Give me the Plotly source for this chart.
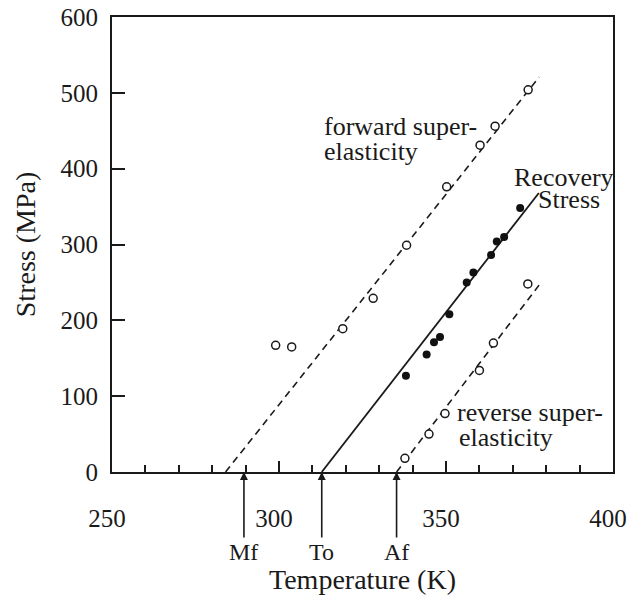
import plotly.graph_objects as go

# ---- data ----
forward_T = [299.0, 303.8, 319.1, 328.2, 338.2, 350.2, 360.2, 364.7, 374.6]
forward_S = [167, 165, 189, 229, 299, 376, 431, 456, 504]

recovery_T = [338.0, 344.2, 346.4, 348.2, 351.0, 356.2, 358.2, 363.5, 365.2, 367.4, 372.2]
recovery_S = [127, 155, 171, 178, 208, 250, 263, 286, 304, 310, 348]

reverse_T = [337.7, 344.9, 349.7, 360.0, 364.2, 374.5]
reverse_S = [18, 50, 77, 134, 170, 248]

forward_fit_T = [284.0, 377.9]
forward_fit_S = [0, 521]
recovery_fit_T = [312.8, 377.8]
recovery_fit_S = [0, 368]
reverse_fit_T = [335.2, 378.3]
reverse_fit_S = [0, 249]

marker_labels = ["Mf", "To", "Af"]
marker_T = [289.5, 312.8, 335.2]

x_ticks = [250, 300, 350, 400]
y_ticks = [0, 100, 200, 300, 400, 500, 600]

FONT = "Liberation Serif, Times New Roman, serif"
INK = "#1a1a1a"

fig = go.Figure()

# fitted lines
fig.add_trace(go.Scatter(x=forward_fit_T, y=forward_fit_S, mode="lines",
                         line=dict(color=INK, width=1.6, dash="7px,5px"),
                         showlegend=False, hoverinfo="skip"))
fig.add_trace(go.Scatter(x=recovery_fit_T, y=recovery_fit_S, mode="lines",
                         line=dict(color=INK, width=1.8),
                         showlegend=False, hoverinfo="skip"))
fig.add_trace(go.Scatter(x=reverse_fit_T, y=reverse_fit_S, mode="lines",
                         line=dict(color=INK, width=1.6, dash="7px,5px"),
                         showlegend=False, hoverinfo="skip"))

# data points
fig.add_trace(go.Scatter(x=forward_T, y=forward_S, mode="markers", name="forward",
                         marker=dict(symbol="circle", size=8, color="white",
                                     line=dict(color=INK, width=1.5)),
                         showlegend=False))
fig.add_trace(go.Scatter(x=recovery_T, y=recovery_S, mode="markers", name="recovery",
                         marker=dict(symbol="circle", size=8, color="#111111",
                                     line=dict(color="#111111", width=0)),
                         showlegend=False))
fig.add_trace(go.Scatter(x=reverse_T, y=reverse_S, mode="markers", name="reverse",
                         marker=dict(symbol="circle", size=8, color="white",
                                     line=dict(color=INK, width=1.5)),
                         showlegend=False))

annotations = []
# text labels
text_font = dict(family=FONT, size=26, color=INK)
annotations += [
    dict(x=312.9, y=455, text="forward super-", xanchor="left", yanchor="middle",
         showarrow=False, font=text_font),
    dict(x=312.9, y=422, text="elasticity", xanchor="left", yanchor="middle",
         showarrow=False, font=text_font),
    dict(x=385.3, y=388, text="Recovery", xanchor="center", yanchor="middle",
         showarrow=False, font=text_font),
    dict(x=386.8, y=359, text="Stress", xanchor="center", yanchor="middle",
         showarrow=False, font=text_font),
    dict(x=352.7, y=78, text="reverse super-", xanchor="left", yanchor="middle",
         showarrow=False, font=text_font),
    dict(x=353.2, y=45, text="elasticity", xanchor="left", yanchor="middle",
         showarrow=False, font=text_font),
]
# Mf / To / Af arrows
for lab, t in zip(marker_labels, marker_T):
    annotations.append(dict(x=t, y=0, xref="x", yref="y", text=lab,
                            showarrow=True, ax=0, ay=80, arrowhead=2, arrowsize=1,
                            arrowwidth=1.6, arrowcolor=INK, standoff=0,
                            font=dict(family=FONT, size=24, color=INK)))

fig.update_layout(
    width=630, height=601,
    margin=dict(l=112, r=17, t=17, b=129),
    paper_bgcolor="white", plot_bgcolor="white",
    font=dict(family=FONT, color=INK),
    annotations=annotations,
    showlegend=False,
)

fig.update_xaxes(
    range=[250, 400], tickvals=x_ticks, ticktext=[str(v) for v in x_ticks],
    ticks="inside", ticklen=11, tickwidth=1.5, tickcolor=INK,
    minor=dict(dtick=10, tick0=250, ticks="inside", ticklen=7, tickwidth=1.5, tickcolor=INK),
    showgrid=False, zeroline=False, automargin=False,
    showline=True, linewidth=2, linecolor=INK, mirror=True,
    tickfont=dict(family=FONT, size=25, color=INK),
    ticklabelstandoff=23, ticklabelshift=-5, ticklabeloverflow="allow",
    title=dict(text="Temperature (K)", font=dict(family=FONT, size=28, color=INK), standoff=38),
)
fig.update_yaxes(
    range=[0, 600], tickvals=y_ticks,
    ticks="inside", ticklen=13, tickwidth=1.5, tickcolor=INK,
    showgrid=False, zeroline=False, automargin=False,
    showline=True, linewidth=2, linecolor=INK, mirror=True,
    tickfont=dict(family=FONT, size=25, color=INK),
    ticklabelstandoff=7, ticklabeloverflow="allow",
    title=dict(text="Stress (MPa)", font=dict(family=FONT, size=28, color=INK), standoff=17),
)

# remove the default page margin so the figure fills the 630x601 window exactly
fig.write_html("out.html", config={"displayModeBar": False},
               post_script="document.body.style.margin='0px';")
